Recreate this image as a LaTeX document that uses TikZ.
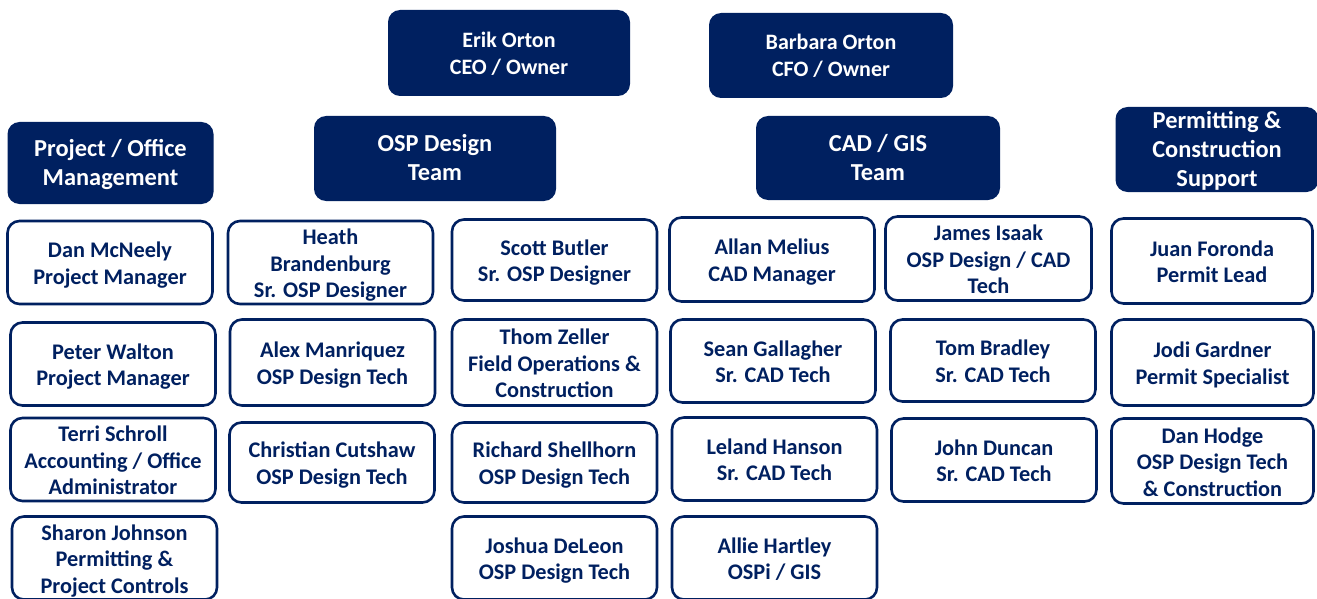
\documentclass[tikz,border=0pt]{standalone}
\usepackage{fontspec}
\setmainfont{Carlito}
\definecolor{navy}{RGB}{0,32,96}

\tikzset{
  box/.style={rounded corners=12pt, align=center, inner sep=2pt},
  % text height/depth fixed so the lines sit the same way in every box
  owner/.style={box, fill=navy, text=white, minimum width=242pt, minimum height=85pt,
    font=\fontsize{22}{27}\selectfont\bfseries, text height=45.2pt, text depth=3pt},
  lead/.style={box, fill=navy, text=white, minimum width=242pt, minimum height=85pt,
    font=\fontsize{24.4}{28.7}\selectfont\bfseries, text height=#1, text depth=3pt},
  lead/.default=47.4pt,
  staff/.style={box, draw=navy, line width=2.6pt, fill=white, text=navy,
    minimum width=205pt, minimum height=83pt,
    font=\fontsize{22.3}{26.5}\selectfont\bfseries, text height=#1, text depth=3pt},
  staff/.default=46.9pt,
}

\begin{document}
\begin{tikzpicture}[x=1pt, y=-1pt]
    \useasboundingbox (0,0) rectangle (1317,599);
    \clip (0,0) rectangle (1317,599);

    % Owners
    \node (erik) at (509,53) [owner, minimum height=86pt] {Erik Orton\\CEO / Owner};
    \node (barbara) at (831,55.5) [owner, minimum width=244pt] {Barbara Orton\\CFO / Owner};

    % Team headers
    \node (office) at (110.5,163) [lead, minimum width=206pt, minimum height=82pt] {Project / Office\\Management};
    \node (osp) at (435,158.5) [lead] {OSP Design\\Team};
    \node (cad) at (878,158) [lead, minimum width=244pt, minimum height=84pt] {CAD / GIS\\Team};
    \node (permit) at (1217,149.5) [lead=76.1pt, minimum width=203pt] {Permitting \&\\Construction\\Support};

    % Project / office staff
    \node (mcneely) at (110,262.5) [staff] {Dan McNeely\\Project Manager};
    \node (walton) at (113,364) [staff] {Peter Walton\\Project Manager};
    \node (schroll) at (113,459.5) [staff=73.4pt] {Terri Schroll\\Accounting / Office\\Administrator};
    \node (johnson) at (114.5,558) [staff=73.4pt] {Sharon Johnson\\Permitting \&\\Project Controls};

    % OSP design staff
    \node (brandenburg) at (330.5,262.5) [staff=73.4pt] {Heath\\Brandenburg\\Sr. OSP Designer};
    \node (manriquez) at (332.5,362.5) [staff, minimum height=86pt] {Alex Manriquez\\OSP Design Tech};
    \node (cutshaw) at (332,462.5) [staff, minimum height=80pt] {Christian Cutshaw\\OSP Design Tech};
    \node (butler) at (554.5,260) [staff, minimum height=81pt] {Scott Butler\\Sr. OSP Designer};
    \node (zeller) at (554.5,362.5) [staff=73.4pt, minimum height=86pt] {Thom Zeller\\Field Operations \&\\Construction};
    \node (shellhorn) at (554.5,462.5) [staff, minimum height=80pt] {Richard Shellhorn\\OSP Design Tech};
    \node (deleon) at (554.5,558) [staff] {Joshua DeLeon\\OSP Design Tech};

    % CAD / GIS staff
    \node (melius) at (772,259.5) [staff, minimum height=84pt] {Allan Melius\\CAD Manager};
    \node (gallagher) at (773,361) [staff] {Sean Gallagher\\Sr. CAD Tech};
    \node (hanson) at (774.5,459) [staff] {Leland Hanson\\Sr. CAD Tech};
    \node (hartley) at (774.5,558) [staff] {Allie Hartley\\OSPi / GIS};
    \node (isaak) at (988.5,258.5) [staff=73.4pt, minimum width=206pt, minimum height=84pt] {James Isaak\\OSP Design / CAD\\Tech};
    \node (bradley) at (993,360.5) [staff, minimum height=82pt] {Tom Bradley\\Sr. CAD Tech};
    \node (duncan) at (994,460) [staff] {John Duncan\\Sr. CAD Tech};

    % Permitting staff
    \node (foronda) at (1212,261) [staff, minimum width=201pt, minimum height=85pt] {Juan Foronda\\Permit Lead};
    \node (gardner) at (1212.5,362.5) [staff, minimum width=202pt, minimum height=86pt] {Jodi Gardner\\Permit Specialist};
    \node (hodge) at (1212.5,461) [staff=73.4pt, minimum width=202pt, minimum height=85pt] {Dan Hodge\\OSP Design Tech\\\& Construction};
\end{tikzpicture}
\end{document}
